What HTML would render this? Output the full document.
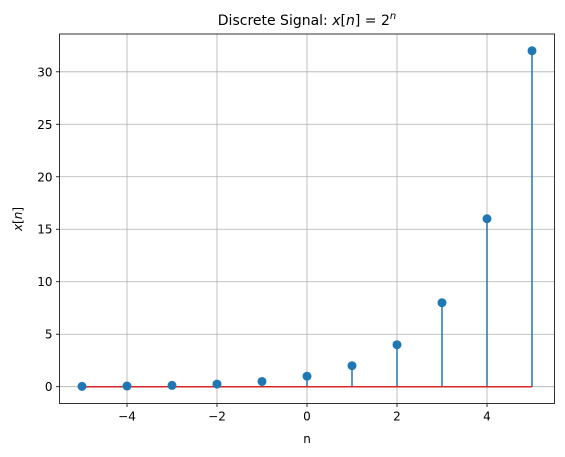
<!DOCTYPE html>
<html><head><meta charset="utf-8"><style>
body{margin:0;background:#fff;}
svg{display:block;font-family:"DejaVu Sans","Liberation Sans",sans-serif;}
</style></head><body>
<svg id="chart" width="565" height="457" xmlns="http://www.w3.org/2000/svg">
<text x="307" y="25" font-size="14" text-anchor="middle">Discrete Signal: <tspan font-style="italic">x</tspan>[<tspan font-style="italic">n</tspan>] = 2<tspan font-size="10" dy="-6" font-style="italic">n</tspan></text>
<g id="grid"></g>
<g id="marks"></g>
<rect x="59.5" y="34" width="495" height="369.5" fill="none" stroke="#000" stroke-width="0.8"/>
<g id="ticks" font-size="12"></g>
<text x="307" y="443" font-size="12" text-anchor="middle">n</text>
<text transform="translate(22,219) rotate(-90)" font-size="12" text-anchor="middle"><tspan font-style="italic">x</tspan>[<tspan font-style="italic">n</tspan>]</text>
</svg>
<script>
const nValues=[-5,-4,-3,-2,-1,0,1,2,3,4,5];
const xValues=[0.03125,0.0625,0.125,0.25,0.5,1,2,4,8,16,32];
const xTicks=[-4,-2,0,2,4];
const yTicks=[0,5,10,15,20,25,30];
const NS="http://www.w3.org/2000/svg";
const L=59.5,R=554.5,T=34,B=403.5,xmin=-5.5,xmax=5.5,ymin=-1.6,ymax=33.6;
const sx=v=>L+(v-xmin)/(xmax-xmin)*(R-L);
const sy=v=>B-(v-ymin)/(ymax-ymin)*(B-T);
function mk(tag,attrs,parent){const e=document.createElementNS(NS,tag);for(const k in attrs)e.setAttribute(k,attrs[k]);document.getElementById(parent).appendChild(e);return e;}
xTicks.forEach(t=>{
 const g=mk('line',{x1:sx(t),x2:sx(t),y1:T,y2:B,stroke:'#b0b0b0','stroke-width':0.8},'grid');
 
 
 mk('line',{x1:sx(t),x2:sx(t),y1:B,y2:B+3.5,stroke:'#000','stroke-width':0.8},'ticks');
 const tx=mk('text',{x:sx(t),y:B+17,'text-anchor':'middle'},'ticks');
 tx.textContent=(t<0?'\u2212'+(-t):t);
 
 
});
yTicks.forEach(t=>{
 const g=mk('line',{x1:L,x2:R,y1:sy(t),y2:sy(t),stroke:'#b0b0b0','stroke-width':0.8},'grid');
 
 
 mk('line',{x1:L-3.5,x2:L,y1:sy(t),y2:sy(t),stroke:'#000','stroke-width':0.8},'ticks');
 const tx=mk('text',{x:L-7,y:sy(t)+4.5,'text-anchor':'end'},'ticks');
 tx.textContent=t;
 
 
});
nValues.forEach((n,i)=>{
 const s=mk('line',{x1:sx(n),x2:sx(n),y1:sy(0),y2:sy(xValues[i]),stroke:'#1f77b4','stroke-width':1.5},'marks');
 
 
});
const base=mk('line',{x1:sx(nValues[0]),x2:sx(nValues[nValues.length-1]),y1:sy(0),y2:sy(0),stroke:'#d62728','stroke-width':1.5},'marks');


nValues.forEach((n,i)=>{
 const c=mk('circle',{cx:sx(n),cy:sy(xValues[i]),r:4.5,fill:'#1f77b4'},'marks');
 
 
});
</script>
</body></html>
